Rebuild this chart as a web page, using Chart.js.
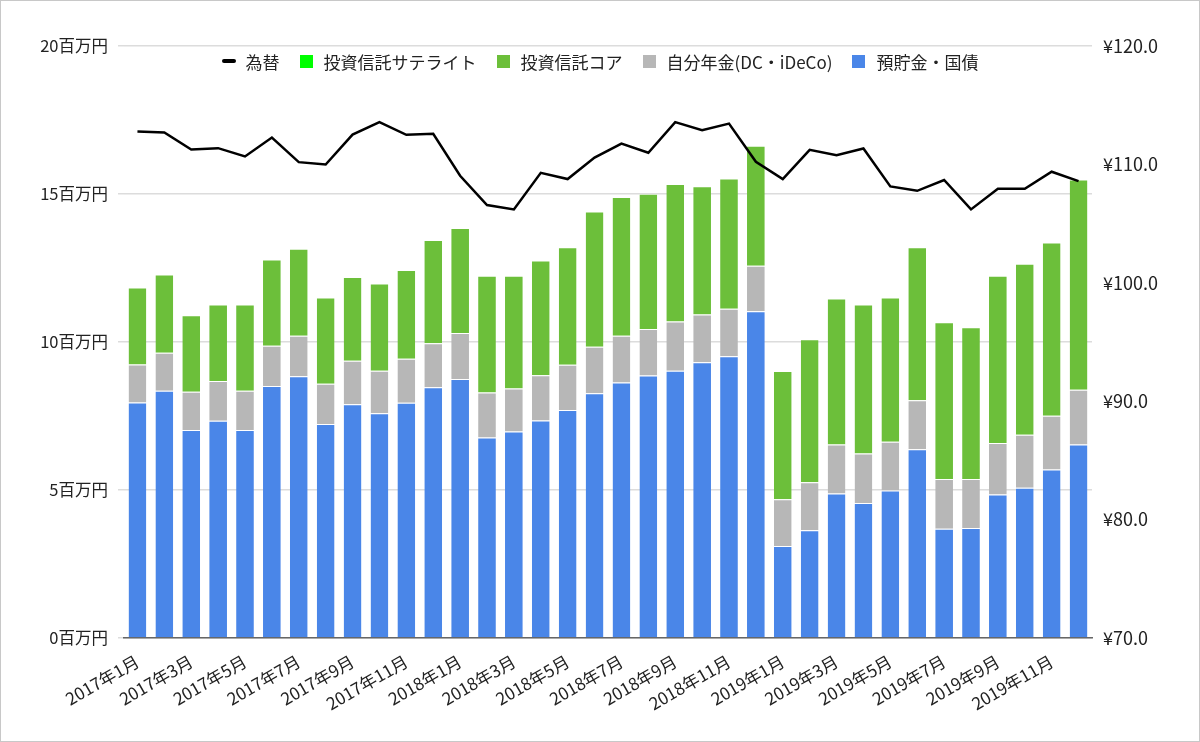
<!DOCTYPE html>
<html lang="ja">
<head>
<meta charset="utf-8">
<script src="https://cdn.jsdelivr.net/npm/chart.js@4.4.1/dist/chart.umd.min.js"></script>
<style>
  html, body { margin: 0; padding: 0; background: #fff; }
  #wrap { position: relative; width: 1200px; height: 742px; }
  #frame { position: absolute; left: 0; top: 0; width: 1200px; height: 742px; box-sizing: border-box; border: 1px solid #c8c8c8; pointer-events: none; }
  #legend { position: absolute; left: 0; right: 0; top: 50px; height: 22px; display: flex; justify-content: center; align-items: center;
    font-family: "Noto Sans CJK JP", sans-serif; font-size: 17px; color: #222; }
  .item { display: flex; align-items: center; margin: 0 10px; }
  .box { width: 13px; height: 13px; margin-right: 11px; }
  .dash { width: 14px; height: 4px; border-radius: 2px; background: #000; margin-right: 10px; }
</style>
</head>
<body>
<div id="wrap">
  <canvas id="chart" width="1200" height="742"></canvas>
  <div id="legend"></div>
  <div id="frame"></div>
</div>
<script>
(function () {
  const months = [
    '2017年1月','2017年2月','2017年3月','2017年4月','2017年5月','2017年6月',
    '2017年7月','2017年8月','2017年9月','2017年10月','2017年11月','2017年12月',
    '2018年1月','2018年2月','2018年3月','2018年4月','2018年5月','2018年6月',
    '2018年7月','2018年8月','2018年9月','2018年10月','2018年11月','2018年12月',
    '2019年1月','2019年2月','2019年3月','2019年4月','2019年5月','2019年6月',
    '2019年7月','2019年8月','2019年9月','2019年10月','2019年11月','2019年12月'
  ];

  // 百万円
  const savings = [7.96, 8.35, 7.03, 7.34, 7.03, 8.51, 8.84, 7.23, 7.90, 7.59, 7.95, 8.47,
                   8.75, 6.77, 6.98, 7.35, 7.70, 8.27, 8.63, 8.87, 9.03, 9.32, 9.52, 11.04,
                   3.11, 3.64, 4.88, 4.56, 4.98, 6.38, 3.69, 3.72, 4.85, 5.08, 5.69, 6.54];
  const pension = [1.28, 1.29, 1.29, 1.34, 1.32, 1.36, 1.37, 1.36, 1.47, 1.44, 1.48, 1.49,
                   1.55, 1.52, 1.45, 1.53, 1.53, 1.57, 1.58, 1.57, 1.66, 1.61, 1.60, 1.54,
                   1.58, 1.62, 1.66, 1.67, 1.65, 1.65, 1.68, 1.65, 1.74, 1.79, 1.82, 1.85];
  const fundCore = [2.60, 2.64, 2.58, 2.59, 2.92, 2.92, 2.94, 2.91, 2.83, 2.95, 3.00, 3.49,
                    3.55, 3.95, 3.81, 3.87, 3.97, 4.57, 4.69, 4.57, 4.65, 4.33, 4.40, 4.05,
                    4.33, 4.83, 4.93, 5.04, 4.87, 5.17, 5.30, 5.13, 5.65, 5.77, 5.85, 7.10];
  const fundSatellite = [0, 0, 0, 0, 0, 0, 0, 0, 0, 0, 0, 0,
                         0, 0, 0, 0, 0, 0, 0, 0, 0, 0, 0, 0,
                         0, 0, 0, 0, 0, 0, 0, 0, 0, 0, 0, 0];
  // 円/ドル
  const fx = [112.78, 112.69, 111.26, 111.37, 110.67, 112.27, 110.19, 109.99, 112.52, 113.57, 112.50, 112.58,
              109.04, 106.57, 106.20, 109.29, 108.76, 110.58, 111.76, 110.98, 113.57, 112.89, 113.45, 110.22,
              108.76, 111.23, 110.78, 111.34, 108.14, 107.77, 108.68, 106.20, 107.94, 107.94, 109.38, 108.59];

  const FONT = '"Noto Sans CJK JP", sans-serif';
  const edge = { top: 1, right: 0, bottom: 0, left: 0 };

  const datasets = [
    { type: 'line', label: '為替', data: fx, yAxisID: 'y2', order: 0,
      borderColor: '#000', borderWidth: 2.5, pointRadius: 0, tension: 0, fill: false },
    { label: '預貯金・国債', data: savings, backgroundColor: '#4a86e8', borderColor: 'rgba(255,255,255,0.55)', borderWidth: edge, order: 1 },
    { label: '自分年金(DC・iDeCo)', data: pension, backgroundColor: '#b7b7b7', borderColor: 'rgba(255,255,255,0.55)', borderWidth: edge, order: 1 },
    { label: '投資信託コア', data: fundCore, backgroundColor: '#6cbf3a', borderColor: 'rgba(255,255,255,0.55)', borderWidth: edge, order: 1 },
    { label: '投資信託サテライト', data: fundSatellite, backgroundColor: '#00ff00', borderWidth: 0, order: 1 }
  ];

  // 凡例 (グラフ内に表示)
  const legend = document.getElementById('legend');
  [0, 4, 3, 2, 1].forEach(i => {
    const ds = datasets[i];
    const item = document.createElement('div');
    item.className = 'item';
    const mark = document.createElement('span');
    if (ds.type === 'line') {
      mark.className = 'dash';
    } else {
      mark.className = 'box';
      mark.style.background = ds.backgroundColor;
    }
    const txt = document.createElement('span');
    txt.textContent = ds.label;
    item.appendChild(mark);
    item.appendChild(txt);
    legend.appendChild(item);
  });

  new Chart(document.getElementById('chart'), {
    type: 'bar',
    data: { labels: months, datasets: datasets },
    options: {
      responsive: false,
      animation: false,
      layout: { padding: { top: 46, right: 0, bottom: 0, left: 0 } },
      datasets: { bar: { barPercentage: 0.66, categoryPercentage: 1 } },
      scales: {
        x: {
          stacked: true,
          grid: { display: false },
          border: { display: true, color: '#666', width: 1.5 },
          ticks: {
            autoSkip: false, maxRotation: 30, minRotation: 30, padding: 5,
            color: '#222', font: { family: FONT, size: 17 },
            callback: function (v, i) { return i % 2 === 0 ? this.getLabelForValue(v) : ''; }
          },
          afterFit: s => { s.height = 104; }
        },
        y: {
          stacked: true, min: 0, max: 20,
          grid: { color: '#dcdcdc', lineWidth: 1.5, drawTicks: true, tickLength: 6 },
          border: { display: false },
          ticks: { stepSize: 5, padding: 10, color: '#222', font: { family: FONT, size: 16.5 },
                   callback: v => v + '百万円' },
          afterFit: s => { s.width = 124; }
        },
        y2: {
          position: 'right', min: 70, max: 120,
          grid: { display: false, drawTicks: false, tickLength: 0 },
          border: { display: false },
          ticks: { stepSize: 10, padding: 11, color: '#222', font: { family: FONT, size: 18 },
                   callback: v => '¥' + v.toFixed(1) },
          afterFit: s => { s.width = 108; }
        }
      },
      plugins: {
        legend: { display: false },
        tooltip: { enabled: false }
      }
    }
  });
})();
</script>
</body>
</html>
